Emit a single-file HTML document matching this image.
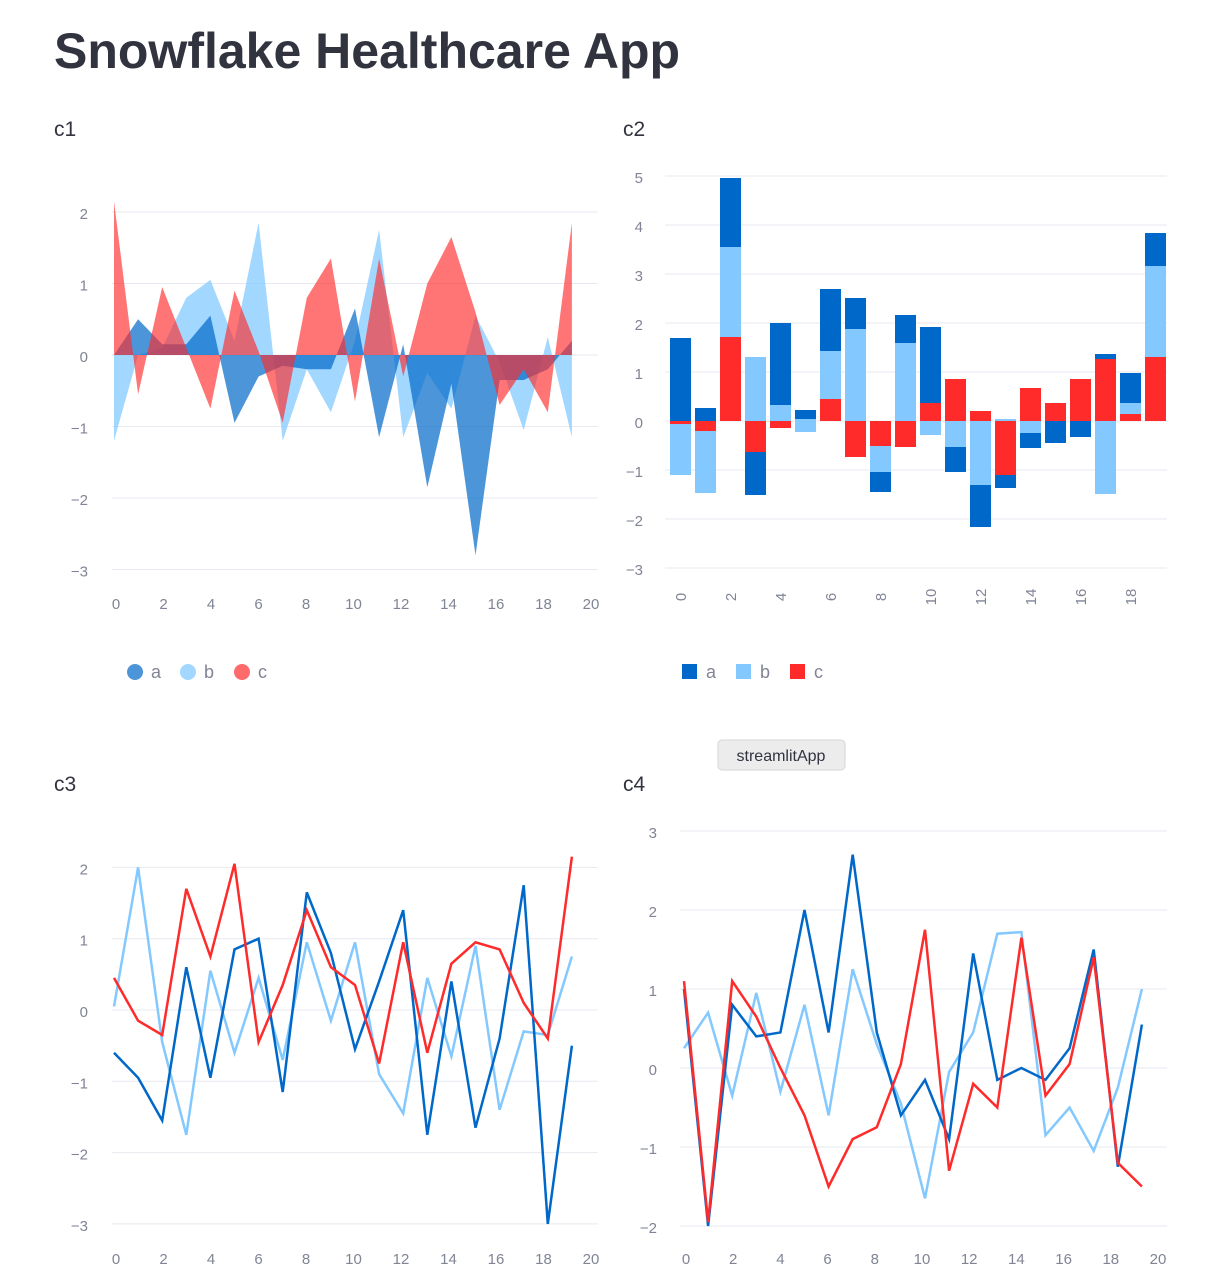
<!DOCTYPE html>
<html><head><meta charset="utf-8"><style>
body{margin:0;background:#fff;width:1217px;height:1280px;overflow:hidden;font-family:"Liberation Sans",sans-serif;}
</style></head><body>
<svg id="s" width="1217" height="1280" xmlns="http://www.w3.org/2000/svg" style="position:absolute;left:0;top:0">
<text x="54" y="68" font-size="50" font-weight="bold" fill="#31333f" font-family="Liberation Sans,sans-serif">Snowflake Healthcare App</text>
<text x="54" y="136" font-size="21" fill="#31333f">c1</text>
<text x="623" y="136" font-size="21" fill="#31333f">c2</text>
<text x="54" y="791" font-size="21" fill="#31333f">c3</text>
<text x="623" y="791" font-size="21" fill="#31333f">c4</text>
<rect x="718" y="740" width="127" height="30" rx="4" fill="#ececec" stroke="#d6d6d6"/>
<text x="781" y="761" font-size="16" fill="#31333f" text-anchor="middle">streamlitApp</text>
<g id="g"></g>
</svg>
<script>
const D='#0068c9',L='#83c9ff',R='#ff2b2b',G='#e6e9ef',T='#808495';
let h='';
function grid(x0,x1,y0,step,ticks,lx){ticks.forEach(t=>{const y=y0-t*step;h+=`<line x1="${x0}" x2="${x1}" y1="${y}" y2="${y}" stroke="${G}"/>`;h+=`<text x="${lx}" y="${y+7}" font-size="15" fill="${T}" text-anchor="end">${t<0?'\u2212'+(-t):t}</text>`;});}
function xlab(x0,sx,y){for(let i=0;i<=20;i+=2)h+=`<text x="${x0+i*sx}" y="${y}" font-size="15" fill="${T}" text-anchor="middle">${i}</text>`;}
function area(d,x0,sx,y0,sy,c,op){let p=`M${x0},${y0}`;d.forEach((v,i)=>p+=` L${x0+i*sx},${y0-v*sy}`);p+=` L${x0+19*sx},${y0}Z`;h+=`<path d="${p}" fill="${c}" fill-opacity="${op}"/>`;}
function line(d,x0,sx,y0,sy,c){h+=`<polyline fill="none" stroke="${c}" stroke-width="2.5" points="${d.map((v,i)=>(x0+i*sx)+','+(y0-v*sy)).join(' ')}"/>`;}
const SX=24.1;
// c1
grid(112,598,355,71.5,[2,1,0,-1,-2,-3],88);xlab(116,23.75,609);
const a1=[0,0.5,0.15,0.15,0.55,-0.95,-0.3,-0.15,-0.2,-0.2,0.65,-1.15,0.15,-1.85,-0.4,-2.8,-0.35,-0.35,-0.2,0.2];
const b1=[-1.2,0,0.1,0.8,1.05,0.2,1.85,-1.2,-0.2,-0.8,0.2,1.75,-1.15,-0.25,-0.75,0.55,-0.1,-1.05,0.25,-1.15];
const c1=[2.15,-0.55,0.95,0.1,-0.75,0.9,0.05,-0.95,0.8,1.35,-0.65,1.35,-0.3,1.0,1.65,0.6,-0.7,-0.2,-0.8,1.85];
area(b1,114,SX,355,71.5,L,0.75);area(a1,114,SX,355,71.5,D,0.7);area(c1,114,SX,355,71.5,R,0.65);
[[135,'a',D,.7],[188,'b',L,.75],[242,'c',R,.7]].forEach(([x,t,c,o])=>{h+=`<circle cx="${x}" cy="672" r="8" fill="${c}" fill-opacity="${o}"/><text x="${x+16}" y="678" font-size="18" fill="${T}">${t}</text>`;});
// c2
grid(665,1167,421,49,[5,4,3,2,1,0,-1,-2,-3],643);
for(let i=0;i<=18;i+=2)h+=`<text transform="translate(${686+i*25},597) rotate(-90)" font-size="15" fill="${T}" text-anchor="middle">${i}</text>`;
const bars=[
[['a',338,421],['c',421,424],['b',424,475]],[['a',408,421],['c',421,431],['b',431,493]],
[['a',178,247],['b',247,337],['c',337,421]],[['b',357,421],['c',421,452],['a',452,495]],
[['a',323,405],['b',405,421],['c',421,428]],[['a',410,419],['b',419,432]],
[['a',289,351],['b',351,399],['c',399,421]],[['a',298,329],['b',329,421],['c',421,457]],
[['c',421,446],['b',446,472],['a',472,492]],[['a',315,343],['b',343,421],['c',421,447]],
[['a',327,403],['c',403,421],['b',421,435]],[['c',379,421],['b',421,447],['a',447,472]],
[['c',411,421],['b',421,485],['a',485,527]],[['b',419,421],['c',421,475],['a',475,488]],
[['c',388,421],['b',421,433],['a',433,448]],[['c',403,421],['a',421,443]],
[['c',379,421],['a',421,437]],[['a',354,359],['c',359,421],['b',421,494]],
[['a',373,403],['b',403,414],['c',414,421]],[['a',233,266],['b',266,357],['c',357,421]]];
const cm={a:D,b:L,c:R};
bars.forEach((bs,i)=>bs.forEach(([k,t,b])=>h+=`<rect x="${670+i*25}" y="${t}" width="21" height="${b-t}" fill="${cm[k]}"/>`));
[[682,'a',D],[736,'b',L],[790,'c',R]].forEach(([x,t,c])=>{h+=`<rect x="${x}" y="664" width="15" height="15" fill="${c}"/><text x="${x+24}" y="678" font-size="18" fill="${T}">${t}</text>`;});
// c3
grid(112,598,1010,71.3,[2,1,0,-1,-2,-3],88);xlab(116,23.75,1264);
line([0.05,2.0,-0.45,-1.75,0.55,-0.6,0.45,-0.7,0.95,-0.15,0.95,-0.9,-1.45,0.45,-0.65,0.9,-1.4,-0.3,-0.35,0.75],114,SX,1010,71.3,L);
line([-0.6,-0.95,-1.55,0.6,-0.95,0.85,1.0,-1.15,1.65,0.8,-0.55,0.4,1.4,-1.75,0.4,-1.65,-0.4,1.75,-3.0,-0.5],114,SX,1010,71.3,D);
line([0.45,-0.15,-0.35,1.7,0.75,2.05,-0.45,0.35,1.4,0.6,0.35,-0.75,0.95,-0.6,0.65,0.95,0.85,0.1,-0.4,2.15],114,SX,1010,71.3,R);
// c4
grid(680,1167,1068,79,[3,2,1,0,-1,-2],657);xlab(686,23.6,1264);
line([0.25,0.7,-0.35,0.95,-0.3,0.8,-0.6,1.25,0.3,-0.45,-1.65,-0.05,0.45,1.7,1.72,-0.85,-0.5,-1.05,-0.25,1.0],684,SX,1068,79,L);
line([1.0,-2.0,0.8,0.4,0.45,2.0,0.45,2.7,0.45,-0.6,-0.15,-0.9,1.45,-0.15,0,-0.15,0.25,1.5,-1.25,0.55],684,SX,1068,79,D);
line([1.1,-1.95,1.1,0.65,0,-0.6,-1.5,-0.9,-0.75,0.05,1.75,-1.3,-0.2,-0.5,1.65,-0.35,0.05,1.4,-1.2,-1.5],684,SX,1068,79,R);
document.getElementById('g').innerHTML=h;
</script>
</body></html>
